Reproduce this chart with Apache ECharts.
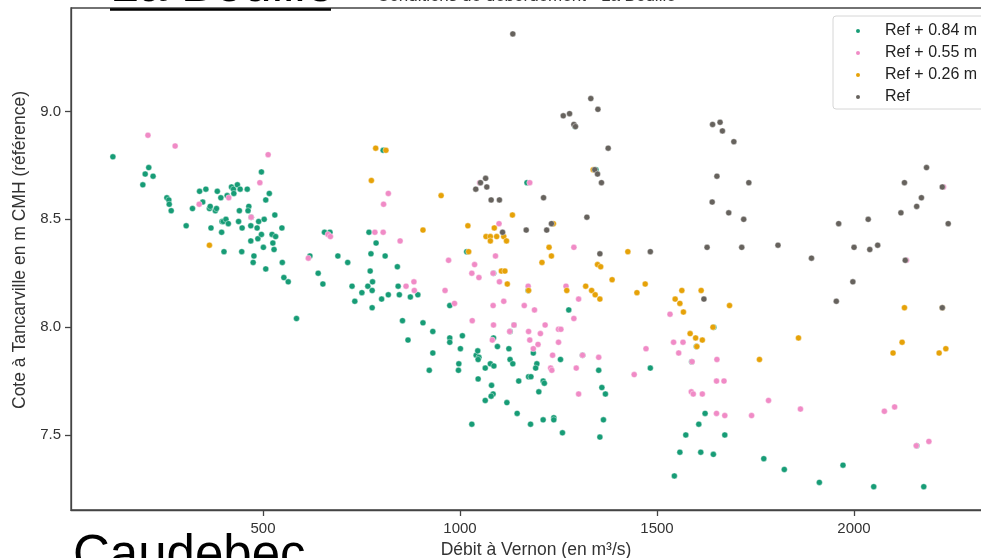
<!DOCTYPE html>
<html>
<head>
<meta charset="utf-8">
<script src="https://cdn.jsdelivr.net/npm/echarts@6/dist/echarts.min.js"></script>
<style>
  html, body { margin: 0; padding: 0; background: #fff; }
  #chart { width: 981px; height: 558px; }
</style>
</head>
<body>
<div id="chart"></div>
<script>
// Débit à Vernon (m³/s) vs cote à Tancarville (m CMH) — one array per scenario
const seriesNames = ['Ref + 0.84 m', 'Ref + 0.55 m', 'Ref + 0.26 m', 'Ref'];
const seriesColors = ['#179c76', '#f08bc6', '#e6a208', '#66625d'];

const ref084 = [
  [119,8.79],[210,8.74],[201,8.71],[221,8.70],[195,8.66],[256,8.60],[261,8.59],[262,8.57],[267,8.54],[305,8.47],
  [321,8.55],[339,8.63],[355,8.64],[347,8.58],[364,8.55],[366,8.56],[379,8.54],[382,8.55],[368,8.46],[384,8.63],
  [393,8.60],[396,8.49],[399,8.49],[406,8.50],[412,8.48],[395,8.44],[401,8.35],[409,8.61],[420,8.65],[425,8.64],
  [426,8.62],[435,8.66],[442,8.64],[460,8.64],[440,8.54],[438,8.49],[447,8.46],[464,8.56],[462,8.54],[470,8.51],
  [469,8.47],[446,8.35],[469,8.40],[477,8.33],[475,8.30],[487,8.41],[496,8.43],[485,8.46],[489,8.49],[503,8.50],
  [501,8.37],[496,8.72],[516,8.62],[507,8.59],[530,8.52],[523,8.43],[532,8.42],[525,8.39],[528,8.36],[548,8.46],
  [549,8.30],[507,8.27],[553,8.23],[564,8.21],[619,8.33],[640,8.25],[585,8.04],
  [652,8.20],[656,8.44],[670,8.44],[690,8.33],[715,8.30],[726,8.19],[733,8.12],[751,8.16],[766,8.19],[777,8.17],
  [778,8.21],[772,8.26],[774,8.34],[787,8.39],[769,8.44],[810,8.33],[777,8.09],[801,8.13],[818,8.15],[841,8.28],
  [843,8.19],[846,8.15],[874,8.14],[893,8.15],[854,8.03],[868,7.94],[906,8.02],[931,7.98],[931,7.88],[922,7.80],
  [974,7.95],[974,7.93],[974,8.10],[1006,7.96],[1001,7.90],[997,7.83],[996,7.80],[1017,8.35],[1041,7.87],[1045,7.89],
  [1048,7.86],[1046,7.85],[1064,7.81],[1077,7.83],[1086,7.82],[1046,7.76],[1080,7.73],[1084,7.69],[1079,7.68],[1064,7.66],
  [1030,7.55],[1095,7.91],[1085,7.95],[1085,8.25],[1124,7.90],[1127,7.85],[1134,7.83],[1149,7.75],[1119,7.65],[1145,7.60],
  [1174,7.77],[1180,7.77],[1211,7.75],[1214,7.74],[1200,7.70],[1186,7.88],[1195,7.83],[1192,7.81],[1179,7.55],[1211,7.57],
  [1238,7.58],[1238,7.57],[1260,7.51],[1255,7.85],[1276,8.08],[1173,8.17],[1127,7.98],[1137,8.01],[1170,8.67],[805,8.82],
  [1345,8.73],[1292,8.93],[1311,7.87],[1352,7.80],[1360,7.72],[1369,7.69],[1364,7.57],[1355,7.49],
  [1483,7.81],[1622,7.60],[1606,7.55],[1573,7.50],[1672,7.50],[1558,7.42],[1611,7.42],[1643,7.41],[1771,7.39],[1823,7.34],
  [1912,7.28],[1544,7.31],[1588,7.84],[1600,7.91],[1644,8.00],[1972,7.36],[2050,7.26],[2177,7.26],[2159,7.45]
];

const ref055 = [
  [208,8.89],[277,8.84],[513,8.80],[492,8.67],[413,8.60],[338,8.57],[470,8.51],[615,8.32],[665,8.43],[671,8.42],
  [784,8.44],[805,8.44],[848,8.40],[818,8.62],[806,8.57],[971,8.31],[962,8.17],[986,8.11],[863,8.19],[883,8.21],
  [884,8.17],[1037,8.29],[1030,8.25],[1048,8.23],[1084,8.25],[1090,8.33],[1099,8.48],[1100,8.21],[1031,8.03],[1084,8.10],
  [1111,8.12],[1085,8.01],[1082,7.94],[1126,7.98],[1137,8.01],[1163,8.10],[1189,8.08],[1173,8.19],[1174,7.98],[1177,7.94],
  [1204,7.97],[1198,7.92],[1186,7.90],[1216,8.01],[1250,7.99],[1256,7.99],[1250,7.93],[1235,7.87],[1230,7.81],[1233,7.80],
  [1301,7.69],[1295,7.81],[1311,7.87],[1352,7.86],[1289,8.04],[1301,8.13],[1269,8.19],[1289,8.37],[1177,8.67],[1050,8.67],
  [1533,8.06],[1542,7.93],[1566,7.93],[1555,7.88],[1472,7.90],[1442,7.78],[1589,7.84],[1652,7.85],[1651,7.75],[1670,7.75],
  [1587,7.70],[1592,7.69],[1615,7.69],[1651,7.60],[1672,7.59],[1740,7.59],[1783,7.66],[1864,7.62],[2077,7.61],[2103,7.63],
  [2158,7.45],[2190,7.47],[2227,8.65],[2133,8.31]
];

const ref026 = [
  [364,8.38],[786,8.83],[812,8.82],[775,8.68],[952,8.61],[906,8.45],[1020,8.47],[1022,8.35],[1087,8.46],[1066,8.42],
  [1077,8.42],[1093,8.42],[1077,8.40],[1111,8.42],[1118,8.40],[1133,8.52],[1105,8.26],[1114,8.26],[1120,8.20],[1226,8.37],
  [1232,8.33],[1208,8.30],[1237,8.48],[1174,8.17],[1271,8.17],[1319,8.19],[1334,8.17],[1343,8.15],[1355,8.13],[1349,8.29],
  [1357,8.28],[1386,8.22],[1338,8.73],[1426,8.35],[1449,8.16],[1470,8.20],[1563,8.17],[1612,8.17],[1546,8.13],[1558,8.11],
  [1567,8.07],[1684,8.10],[1642,8.00],[1584,7.97],[1598,7.95],[1615,7.94],[1601,7.91],[1760,7.85],[1859,7.95],[2128,8.09],
  [2122,7.93],[2099,7.88],[2216,7.88],[2233,7.90],[2224,8.09]
];

const ref000 = [
  [1134,9.36],[1289,8.94],[1293,8.93],[1376,8.83],[1342,8.73],[1349,8.71],[1359,8.67],[1052,8.67],[1065,8.69],[1040,8.64],
  [1068,8.65],[1079,8.59],[1100,8.59],[1212,8.60],[1232,8.48],[1108,8.44],[1168,8.45],[1220,8.45],[1322,8.51],[1355,8.34],
  [1262,8.98],[1278,8.99],[1332,9.06],[1350,9.01],[1641,8.94],[1660,8.95],[1666,8.91],[1695,8.86],[1652,8.70],[1733,8.67],
  [1640,8.58],[1682,8.53],[1720,8.50],[1961,8.48],[1483,8.35],[1627,8.37],[1715,8.37],[1807,8.38],[1892,8.32],[1955,8.12],
  [1619,8.13],[2184,8.74],[2128,8.67],[2224,8.65],[2171,8.60],[2159,8.56],[2119,8.53],[2239,8.48],[2036,8.50],[2000,8.37],
  [2040,8.36],[2060,8.38],[2130,8.31],[1997,8.21],[2224,8.09]
];

const xTicks = [500, 1000, 1500, 2000];
const yTicks = [7.5, 8.0, 8.5, 9.0];

const xRange = [12.7, 2373];
const yRange = [7.152, 9.48];

const allSeries = [ref084, ref055, ref026, ref000];

const chart = echarts.init(document.getElementById('chart'), null, { renderer: 'canvas' });

const axisColor = '#444';
const textColor = '#333';
const baseFont = 'Liberation Sans, Arial, sans-serif';

chart.setOption({
  animation: false,
  backgroundColor: '#fff',
  textStyle: { fontFamily: baseFont },
  title: {
    text: 'Conditions de débordement - La Bouille',
    left: 377,
    top: -12,
    padding: 0,
    textStyle: { fontSize: 17, fontWeight: 'normal', color: textColor, fontFamily: baseFont }
  },
  grid: {
    left: 71, top: 8, width: 930, height: 502,
    outerBoundsMode: 'none',
    containLabel: false,
    show: true, borderColor: axisColor, borderWidth: 1.3, backgroundColor: 'transparent'
  },
  legend: {
    orient: 'vertical',
    left: 833, top: 16,
    padding: [7, 22, 4, 21],
    itemGap: 6,
    itemWidth: 6, itemHeight: 6,
    icon: 'circle',
    backgroundColor: '#fff',
    borderColor: '#d6d6d6', borderWidth: 1, borderRadius: 3,
    textStyle: { fontSize: 16, color: '#222', fontFamily: baseFont, lineHeight: 16, padding: [0, 0, 0, 19] },
    data: seriesNames
  },
  xAxis: {
    type: 'value',
    min: xRange[0], max: xRange[1],
    name: 'Débit à Vernon (en m³/s)',
    nameLocation: 'middle', nameGap: 29,
    nameTextStyle: { fontSize: 17.5, color: textColor, fontFamily: baseFont },
    splitLine: { show: false },
    axisLine: { show: true, lineStyle: { color: axisColor, width: 1.3 } },
    axisTick: { show: true, customValues: xTicks, length: 6, lineStyle: { color: axisColor, width: 1.3 } },
    axisLabel: {
      customValues: xTicks, fontSize: 15, color: textColor, margin: 11, fontFamily: baseFont,
      formatter: v => String(v)
    }
  },
  yAxis: {
    type: 'value',
    min: yRange[0], max: yRange[1],
    name: 'Cote à Tancarville en m CMH (référence)',
    nameLocation: 'middle', nameGap: 37, nameRotate: 90,
    nameTextStyle: { fontSize: 17.5, color: textColor, fontFamily: baseFont, padding: [0, 0, 0, 18] },
    splitLine: { show: false },
    axisLine: { show: true, lineStyle: { color: axisColor, width: 1.3 } },
    axisTick: { show: true, customValues: yTicks, length: 6, lineStyle: { color: axisColor, width: 1.3 } },
    axisLabel: {
      customValues: yTicks, fontSize: 15, color: textColor, margin: 10, fontFamily: baseFont,
      formatter: v => v.toFixed(1)
    }
  },
  series: allSeries.map((d, i) => ({
    name: seriesNames[i],
    type: 'scatter',
    data: d,
    symbol: 'circle',
    symbolSize: 6,
    itemStyle: { color: seriesColors[i], opacity: 1, borderColor: '#fff', borderWidth: 0.4 },
    z: 2 + i
  })),
  graphic: [
    {
      type: 'text',
      x: 110, y: -13,
      style: { text: 'La Bouille', font: '51px Liberation Sans, Arial, sans-serif', fill: '#000', verticalAlign: 'middle' },
      z: 100
    },
    {
      type: 'line',
      shape: { x1: 110, y1: 9.5, x2: 331, y2: 9.5 },
      style: { stroke: '#000', lineWidth: 2.5 },
      z: 100
    },
    {
      type: 'text',
      x: 73, y: 557,
      style: { text: 'Caudebec', font: '51px Liberation Sans, Arial, sans-serif', fill: '#000', verticalAlign: 'middle' },
      z: 100
    }
  ]
});
</script>
</body>
</html>
